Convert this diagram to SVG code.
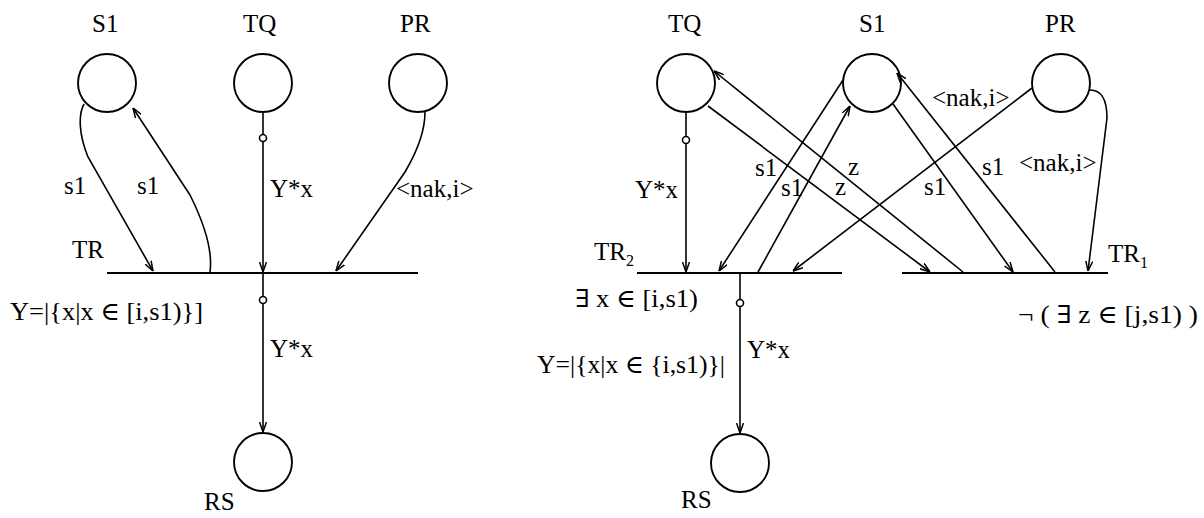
<svg xmlns="http://www.w3.org/2000/svg" width="1204" height="518" viewBox="0 0 1204 518">
<style>
.pl{fill:none;stroke:#000;stroke-width:1.9}
.bar{stroke:#000;stroke-width:2}
.c{fill:none;stroke:#000;stroke-width:1.6}
.sm{fill:#fff;stroke:#000;stroke-width:1.6}
text{font-family:'Liberation Serif','DejaVu Serif',serif;font-size:25px;fill:#000}
.sub{font-size:16px}
</style>
<defs>
<marker id="arr" viewBox="0 0 10 8" refX="10" refY="4" markerWidth="10" markerHeight="8" markerUnits="userSpaceOnUse" orient="auto">
<path d="M0,0.5 L10,4 L0,7.5" fill="none" stroke="#000" stroke-width="1.5"/>
</marker>
</defs>
<rect width="1204" height="518" fill="#fff"/>

<!-- Left net -->
<g id="L_S1"><circle class="pl" cx="107" cy="83" r="29"/><text x="92" y="32">S1</text></g>
<g id="L_TQ"><circle class="pl" cx="263" cy="83" r="29"/><text x="243" y="32">TQ</text></g>
<g id="L_PR"><circle class="pl" cx="418" cy="83" r="29"/><text x="400" y="32">PR</text></g>
<g id="L_RS"><circle class="pl" cx="263" cy="462" r="29"/><text x="204" y="510">RS</text></g>
<g id="L_TR"><line class="bar" x1="107" y1="273" x2="418" y2="273"/><text x="72" y="258">TR</text><text x="10" y="320" textLength="193" lengthAdjust="spacingAndGlyphs">Y=|{x|x ∈ [i,s1)}]</text></g>

<!-- Right net -->
<g id="R_TQ"><circle class="pl" cx="686" cy="83" r="29"/><text x="668" y="32">TQ</text></g>
<g id="R_S1"><circle class="pl" cx="872" cy="83" r="29"/><text x="859" y="32">S1</text></g>
<g id="R_PR"><circle class="pl" cx="1061" cy="83" r="29"/><text x="1045" y="32">PR</text></g>
<g id="R_RS"><circle class="pl" cx="740" cy="463" r="29"/><text x="681" y="508">RS</text></g>
<g id="R_TR2"><line class="bar" x1="637" y1="273" x2="842" y2="273"/><text x="594" y="260">TR<tspan class="sub" dy="6">2</tspan></text><text x="575" y="307" textLength="123" lengthAdjust="spacingAndGlyphs">∃ x ∈ [i,s1)</text><text x="537" y="373" textLength="188" lengthAdjust="spacingAndGlyphs">Y=|{x|x ∈ {i,s1)}|</text></g>
<g id="R_TR1"><line class="bar" x1="902" y1="273" x2="1108" y2="273"/><text x="1108" y="262">TR<tspan class="sub" dy="6">1</tspan></text><text x="1018" y="323" textLength="180" lengthAdjust="spacingAndGlyphs">¬ ( ∃ z ∈ [j,s1) )</text></g>

<g id="connectors">
<!-- left -->
<path class="c" d="M84,104 C78,115 79,135 88,157 L153,271" marker-end="url(#arr)"/>
<path class="c" d="M210,272 C213,250 205,225 190,195 L133,108" marker-end="url(#arr)"/>
<path class="c" d="M425,112 C425,130 418,150 405,172 L336,271" marker-end="url(#arr)"/>
<path class="c" d="M263,112 L263,272" marker-end="url(#arr)"/>
<circle class="sm" cx="263" cy="138" r="3.5"/>
<path class="c" d="M263,273 L263,432" marker-end="url(#arr)"/>
<circle class="sm" cx="263" cy="300" r="3.5"/>
<text x="64" y="194">s1</text>
<text x="137" y="194">s1</text>
<text x="270" y="197">Y*x</text>
<text x="396" y="197">&lt;nak,i&gt;</text>
<text x="270" y="357">Y*x</text>

<!-- right -->
<path class="c" d="M708,106 L930,272" marker-end="url(#arr)"/>
<path class="c" d="M963,272 L714,71" marker-end="url(#arr)"/>
<path class="c" d="M1055,272 L897,73" marker-end="url(#arr)"/>
<path class="c" d="M893,104 L1013,272" marker-end="url(#arr)"/>
<path class="c" d="M1032,88 L793,271" marker-end="url(#arr)"/>
<path class="c" d="M843,80 L719,271" marker-end="url(#arr)"/>
<path class="c" d="M758,272 L850,106" marker-end="url(#arr)"/>
<path class="c" d="M1090,90 C1102,90 1107,100 1107,118 L1088,271" marker-end="url(#arr)"/>
<path class="c" d="M686,112 L686,272" marker-end="url(#arr)"/>
<circle class="sm" cx="686" cy="140" r="3.5"/>
<path class="c" d="M740,273 L740,433" marker-end="url(#arr)"/>
<circle class="sm" cx="740" cy="303" r="3.5"/>
<text x="635" y="198">Y*x</text>
<text x="755" y="176">s1</text>
<text x="781" y="196">s1</text>
<text x="848" y="175">z</text>
<text x="835" y="195">z</text>
<text x="924" y="195">s1</text>
<text x="982" y="175">s1</text>
<text x="932" y="106">&lt;nak,i&gt;</text>
<text x="1019" y="171">&lt;nak,i&gt;</text>
<text x="747" y="358">Y*x</text>
</g>
</svg>
